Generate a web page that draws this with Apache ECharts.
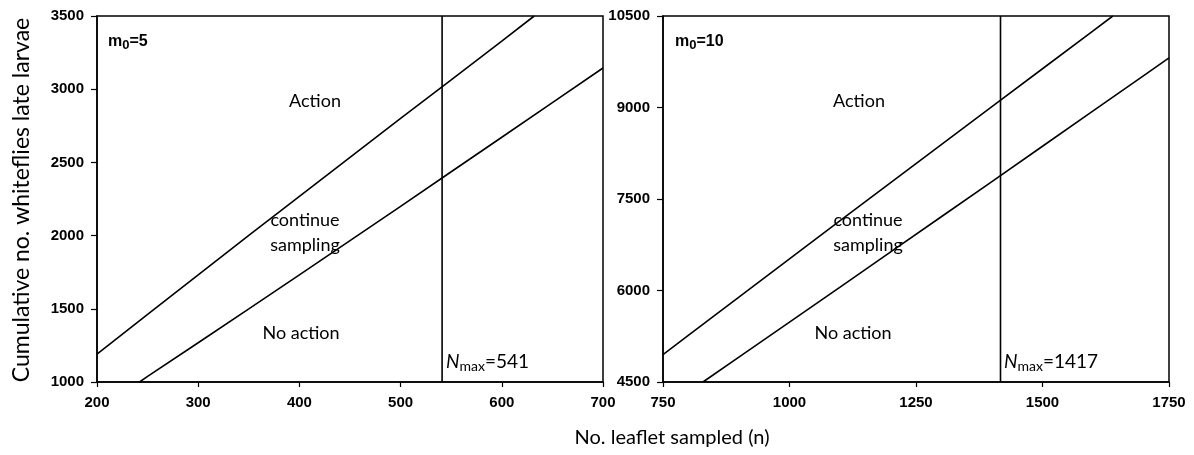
<!DOCTYPE html>
<html><head><meta charset="utf-8">
<script src="https://cdn.jsdelivr.net/npm/echarts@6/dist/echarts.min.js"></script>
<style>html,body{margin:0;padding:0;background:#fff}#c{width:1194px;height:455px}</style>
</head><body><div id="c"></div>
<script>
// Left panel (m0 = 5)
const leftXTicks = [200, 300, 400, 500, 600, 700];
const leftYTicks = [1000, 1500, 2000, 2500, 3000, 3500];
const leftUpper = [[200,1190],[250,1462],[300,1732],[350,2001],[400,2268],[450,2534],[500,2800],[550,3064],[600,3328],[632,3500]];
const leftLower = [[242,1000],[250,1038],[300,1268],[350,1499],[400,1732],[450,1966],[500,2200],[550,2436],[600,2672],[650,2908],[700,3145]];
const leftNmax = 541;
// Right panel (m0 = 10)
const rightXTicks = [750, 1000, 1250, 1500, 1750];
const rightYTicks = [4500, 6000, 7500, 9000, 10500];
const rightUpper = [[750,4949],[800,5264],[900,5892],[1000,6519],[1100,7144],[1200,7768],[1300,8391],[1400,9014],[1500,9635],[1600,10256],[1639,10500]];
const rightLower = [[829,4500],[900,4908],[1000,5481],[1100,6056],[1200,6632],[1300,7209],[1400,7786],[1500,8365],[1600,8944],[1700,9524],[1750,9814]];
const rightNmax = 1417;

const chart = echarts.init(document.getElementById('c'));
const tickFont = {fontFamily:'Liberation Sans, Arial', fontWeight:'bold', fontSize:15, color:'#000', formatter:function(v){return String(v);}};
function xAxis(idx, ticks){
  return {type:'value', gridIndex:idx, min:ticks[0], max:ticks[ticks.length-1], interval:ticks[1]-ticks[0],
    axisLine:{show:true, onZero:false, lineStyle:{color:'#000', width:1.5}},
    axisTick:{show:true, inside:false, length:5, lineStyle:{color:'#000', width:1.2}},
    axisLabel:Object.assign({margin:13}, tickFont), splitLine:{show:false}};
}
function yAxis(idx, ticks){
  return {type:'value', gridIndex:idx, min:ticks[0], max:ticks[ticks.length-1], interval:ticks[1]-ticks[0],
    axisLine:{show:true, onZero:false, lineStyle:{color:'#000', width:1.5}},
    axisTick:{show:true, inside:false, length:6, lineStyle:{color:'#000', width:1.2}},
    axisLabel:Object.assign({margin:13}, tickFont), splitLine:{show:false}};
}
const lineStyle = {color:'#000', width:1.6};
function ln(data, xi, yi){
  return {type:'line', xAxisIndex:xi, yAxisIndex:yi, data:data, symbol:'none', smooth:false, lineStyle:lineStyle, silent:true, clip:true};
}
const annFont = 'Lato, "Open Sans", sans-serif';
function label(x, y, text, size){
  return {type:'text', x:x, y:y, style:{text:text, fill:'#000', font:(size||18)+'px '+annFont, textAlign:'center', textVerticalAlign:'middle'}};
}
function nmaxText(x, y, val){
  return {type:'text', x:x, y:y, style:{
    text:'{n|N}{s|max}{v|='+val+'}', fill:'#000', textVerticalAlign:'middle',
    rich:{n:{fontStyle:'italic', fontSize:19, fontFamily:annFont, fill:'#000'},
          s:{fontSize:14, fontFamily:annFont, padding:[9,0,0,0], fill:'#000'},
          v:{fontSize:19, fontFamily:annFont, fill:'#000'}}}};
}
function m0Text(x, y, val){
  return {type:'text', x:x, y:y, style:{
    text:'{m|m}{s|0}{v|='+val+'}', fill:'#000', textVerticalAlign:'middle',
    rich:{m:{fontWeight:'bold', fontSize:16, fontFamily:'Liberation Sans, Arial', fill:'#000'},
          s:{fontWeight:'bold', fontSize:13, fontFamily:'Liberation Sans, Arial', padding:[7,0,0,0], fill:'#000'},
          v:{fontWeight:'bold', fontSize:16, fontFamily:'Liberation Sans, Arial', fill:'#000'}}}};
}
chart.setOption({
  animation:false,
  backgroundColor:'#fff',
  grid:[
    {left:97, right:591, top:16, bottom:73, show:true, borderColor:'#000', borderWidth:1.5, backgroundColor:'transparent'},
    {left:663, right:25, top:16, bottom:73, show:true, borderColor:'#000', borderWidth:1.5, backgroundColor:'transparent'}
  ],
  xAxis:[xAxis(0, leftXTicks), xAxis(1, rightXTicks)],
  yAxis:[yAxis(0, leftYTicks), yAxis(1, rightYTicks)],
  series:[
    ln(leftUpper,0,0), ln(leftLower,0,0),
    ln([[leftNmax, leftYTicks[0]],[leftNmax, leftYTicks[leftYTicks.length-1]]],0,0),
    ln(rightUpper,1,1), ln(rightLower,1,1),
    ln([[rightNmax, rightYTicks[0]],[rightNmax, rightYTicks[rightYTicks.length-1]]],1,1)
  ],
  graphic:[
    {type:'text', x:22, y:200, rotation:Math.PI/2, style:{text:'Cumulative no. whiteflies late larvae', fill:'#000', font:'23px '+annFont, textAlign:'center', textVerticalAlign:'middle'}},
    label(672, 438, 'No. leaflet sampled (n)', 20),
    label(315, 101, 'Action'),
    label(305, 220, 'continue'),
    label(305, 245, 'sampling'),
    label(301, 333, 'No action'),
    label(859, 101, 'Action'),
    label(868, 220, 'continue'),
    label(868, 245, 'sampling'),
    label(853, 333, 'No action'),
    nmaxText(446, 362, leftNmax),
    nmaxText(1004, 362, rightNmax),
    m0Text(108, 42, 5),
    m0Text(675, 42, 10)
  ]
});
</script></body></html>
